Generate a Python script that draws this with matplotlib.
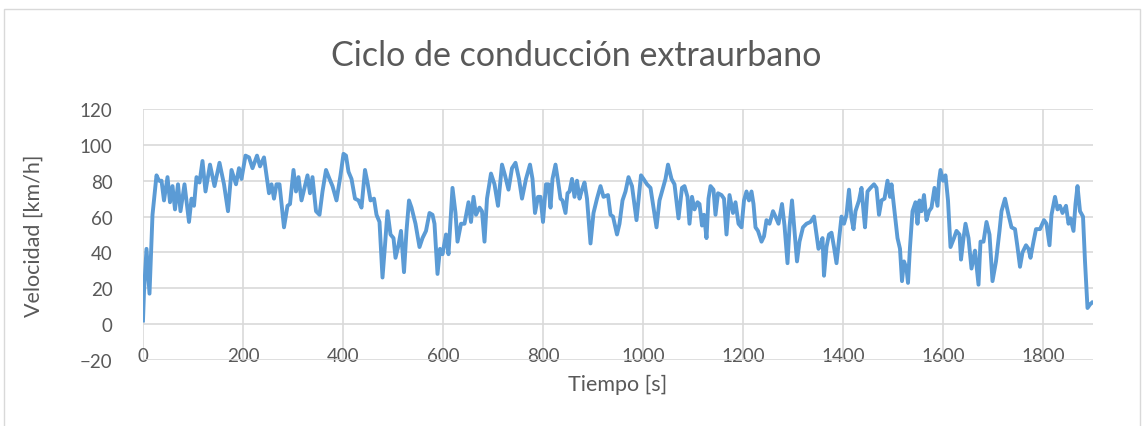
import matplotlib.pyplot as plt
from matplotlib.patches import Rectangle

# tiempo [s] y velocidad [km/h] del ciclo extraurbano
tiempo = [0, 2, 7, 13, 19, 27, 32, 37, 42, 49, 54, 59, 64, 70, 75, 83, 92, 97,
          102, 107, 113, 119, 125, 134, 143, 153, 162, 170, 177, 186, 192, 197,
          205, 212, 219, 228, 234, 242, 252, 257, 262, 267, 273, 282, 289, 294,
          301, 306, 311, 317, 323, 329, 334, 339, 346, 353, 359, 366, 373, 379,
          387, 395, 401, 406, 411, 417, 424, 431, 437, 444, 449, 455, 462, 467,
          473, 479, 484, 489, 495, 501, 505, 511, 516, 522, 527, 532, 537, 545,
          553, 559, 566, 573, 579, 583, 589, 594, 599, 606, 611, 619, 625, 629,
          636, 643, 651, 656, 661, 666, 673, 678, 683, 688, 696, 703, 710, 718,
          724, 731, 738, 745, 752, 758, 766, 774, 779, 784, 790, 795, 800, 806,
          811, 815, 819, 825, 830, 835, 839, 845, 849, 853, 858, 863, 868, 873,
          878, 883, 888, 895, 901, 908, 915, 921, 930, 935, 940, 948, 953, 959,
          965, 971, 978, 987, 996, 1001, 1008, 1015, 1020, 1027, 1033, 1038,
          1045, 1050, 1057, 1063, 1071, 1078, 1083, 1089, 1093, 1098, 1103,
          1109, 1113, 1118, 1122, 1127, 1131, 1135, 1141, 1145, 1150, 1157,
          1162, 1167, 1173, 1180, 1185, 1191, 1197, 1202, 1207, 1212, 1217,
          1221, 1225, 1230, 1237, 1242, 1247, 1253, 1260, 1265, 1271, 1278,
          1283, 1289, 1293, 1298, 1303, 1308, 1313, 1320, 1327, 1335, 1342,
          1347, 1351, 1355, 1359, 1362, 1367, 1372, 1377, 1382, 1387, 1392,
          1397, 1402, 1407, 1412, 1417, 1421, 1425, 1432, 1437, 1441, 1444,
          1449, 1455, 1462, 1467, 1472, 1477, 1483, 1489, 1494, 1497, 1503,
          1509, 1514, 1518, 1522, 1527, 1530, 1534, 1539, 1545, 1549, 1553,
          1557, 1562, 1567, 1572, 1577, 1583, 1589, 1592, 1595, 1600, 1605,
          1610, 1615, 1622, 1627, 1633, 1636, 1641, 1645, 1651, 1657, 1664,
          1671, 1675, 1681, 1687, 1693, 1699, 1706, 1713, 1717, 1724, 1731,
          1737, 1744, 1749, 1754, 1759, 1766, 1771, 1775, 1781, 1786, 1794,
          1802, 1807, 1813, 1817, 1824, 1829, 1834, 1839, 1846, 1851, 1855,
          1861, 1865, 1869, 1874, 1880, 1884, 1889, 1894, 1898]
velocidad = [2, 18, 42, 17, 61, 83, 80, 80, 69, 82, 68, 77, 64, 78, 63, 78, 57,
             70, 66, 82, 79, 91, 74, 89, 77, 90, 78, 63, 86, 78, 87, 81,
             94, 93, 87, 94, 88, 93, 73, 78, 70, 78, 78, 54, 66, 67,
             86, 74, 82, 69, 76, 83, 73, 82, 63, 61, 74, 86, 81, 77,
             69, 83, 95, 94, 85, 81, 70, 69, 65, 86, 79, 69, 70, 61,
             57, 26, 44, 63, 50, 48, 37, 44, 52, 29, 52, 69, 65, 56,
             43, 48, 52, 62, 61, 56, 28, 42, 39, 50, 39, 76, 62, 46,
             56, 56, 68, 57, 71, 61, 65, 63, 46, 70, 84, 78, 66, 89,
             83, 75, 87, 90, 81, 70, 81, 89, 81, 62, 71, 71, 57, 78,
             78, 65, 81, 89, 80, 70, 69, 62, 73, 74, 81, 71, 80, 70,
             75, 79, 70, 45, 62, 70, 77, 71, 72, 61, 60, 50, 56, 69,
             74, 82, 77, 58, 83, 81, 78, 76, 67, 54, 69, 74,
             81, 89, 81, 78, 59, 76, 77, 71, 56, 71, 64,
             68, 67, 55, 61, 48, 70, 77, 75, 61, 73, 72,
             70, 50, 72, 62, 68, 56, 54, 69, 74, 69, 74,
             67, 54, 52, 46, 49, 58, 56, 63, 60, 56, 67,
             55, 34, 54, 69, 52, 35, 46, 54, 56, 57, 60,
             50, 42, 44, 48, 27, 43, 50, 51, 43, 34, 47,
             60, 56, 61, 75, 59, 53, 63, 69, 76, 63, 54,
             74, 76, 78, 76, 61, 69, 70, 80, 71, 78, 63,
             48, 42, 24, 35, 31, 23, 43, 63, 68, 56, 69,
             63, 72, 58, 63, 65, 76, 66, 80, 86, 80, 83,
             69, 43, 48, 52, 50, 36, 48, 56, 48, 31, 41,
             22, 46, 46, 57, 50, 24, 35, 52, 63, 70, 61,
             54, 53, 43, 32, 40, 44, 42, 37, 46, 53, 53,
             58, 56, 44, 61, 71, 64, 66, 62, 66, 56, 59,
             52, 67, 77, 63, 60, 35, 9, 11, 12]

xticks = [0, 200, 400, 600, 800, 1000, 1200, 1400, 1600, 1800]
yticks = [-20, 0, 20, 40, 60, 80, 100, 120]

gris_texto = '#595959'
gris_rejilla = '#D9D9D9'

plt.rcParams['font.family'] = ['Lato', 'DejaVu Sans']

fig = plt.figure(figsize=(11.46, 4.27), dpi=100)
# marco del grafico
fig.patches.append(Rectangle((4 / 1146, -0.05), 1136 / 1146, 1.05 - 10 / 427,
                             transform=fig.transFigure, fill=False,
                             edgecolor=gris_rejilla, linewidth=1))

ax = fig.add_axes([143 / 1146, 1 - 361 / 427, 950 / 1146, 251 / 427])
ax.plot(tiempo, velocidad, color='#5B9BD5', linewidth=2.8, solid_joinstyle='round')

ax.set_xlim(0, 1900)
ax.set_ylim(-20, 120)
ax.set_xticks(xticks)
ax.set_yticks(yticks)
ax.grid(True, color=gris_rejilla, linewidth=1.2)
ax.set_axisbelow(True)
for s in ax.spines.values():
    s.set_visible(False)
ax.tick_params(length=0, labelsize=13.5, labelcolor=gris_texto)
ax.tick_params(axis='x', pad=-9)
ax.tick_params(axis='y', pad=22)

fig.text(0.503, 1 - 56 / 427, 'Ciclo de conducción extraurbano', fontsize=24.5,
         color=gris_texto, ha='center', va='center')
ax.set_xlabel('Tiempo [s]', fontsize=15.5, color=gris_texto, labelpad=7)
ax.set_ylabel('Velocidad [km/h]', fontsize=15.5, color=gris_texto, labelpad=26)

fig.savefig('out.png', dpi=100)
